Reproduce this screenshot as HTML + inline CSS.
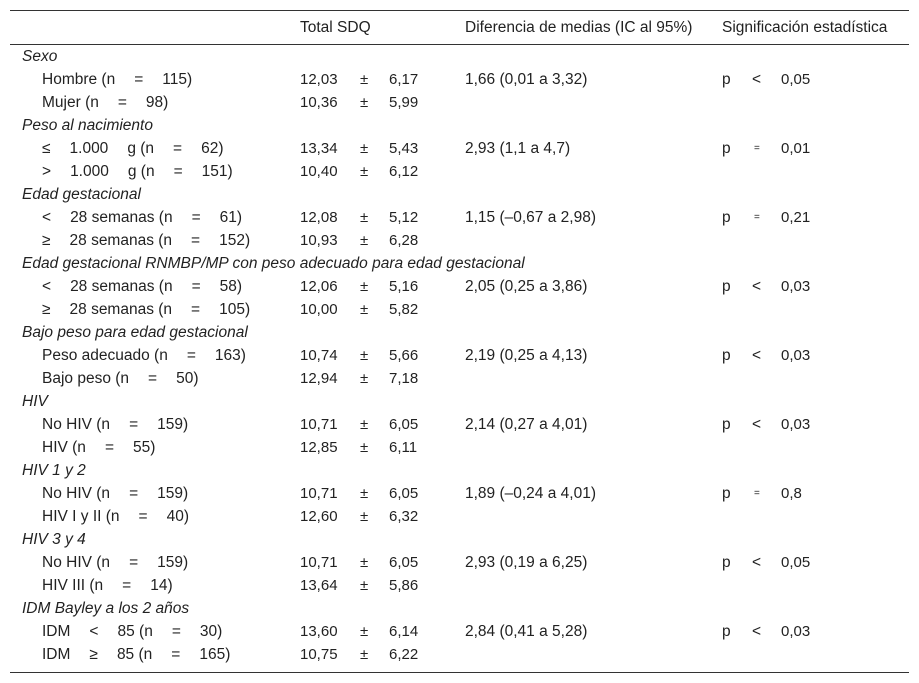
<!DOCTYPE html>
<html><head><meta charset="utf-8">
<style>
html,body{margin:0;padding:0;background:#fff;}
body{width:919px;height:683px;position:relative;overflow:hidden;font-family:"Liberation Sans",sans-serif;font-size:15.5px;color:#222;}
.t{position:absolute;white-space:pre;line-height:18px;}
.num{font-size:15px;}
.gap{display:inline-block;width:19px;}
.line{position:absolute;left:10px;width:899px;height:1px;background:#333;}
.it{font-style:italic;}
</style></head>
<body>
<div class="line" style="top:10px"></div>
<div class="line" style="top:44px"></div>
<div class="line" style="top:672px"></div>
<div class="t" style="left:300px;top:19px">Total SDQ</div>
<div class="t" style="left:465px;top:19px">Diferencia de medias (IC al 95%)</div>
<div class="t" style="left:722px;top:19px">Significación estadística</div>
<div id="rows"></div>
<script>
const rows = [
 ["g","Sexo"],
 ["r","Hombre (n|=|115)","12,03","6,17","1,66 (0,01 a 3,32)","<","0,05"],
 ["r","Mujer (n|=|98)","10,36","5,99"],
 ["g","Peso al nacimiento"],
 ["r","≤|1.000|g (n|=|62)","13,34","5,43","2,93 (1,1 a 4,7)","=","0,01"],
 ["r",">|1.000|g (n|=|151)","10,40","6,12"],
 ["g","Edad gestacional"],
 ["r","<|28 semanas (n|=|61)","12,08","5,12","1,15 (–0,67 a 2,98)","=","0,21"],
 ["r","≥|28 semanas (n|=|152)","10,93","6,28"],
 ["g","Edad gestacional RNMBP/MP con peso adecuado para edad gestacional"],
 ["r","<|28 semanas (n|=|58)","12,06","5,16","2,05 (0,25 a 3,86)","<","0,03"],
 ["r","≥|28 semanas (n|=|105)","10,00","5,82"],
 ["g","Bajo peso para edad gestacional"],
 ["r","Peso adecuado (n|=|163)","10,74","5,66","2,19 (0,25 a 4,13)","<","0,03"],
 ["r","Bajo peso (n|=|50)","12,94","7,18"],
 ["g","HIV"],
 ["r","No HIV (n|=|159)","10,71","6,05","2,14 (0,27 a 4,01)","<","0,03"],
 ["r","HIV (n|=|55)","12,85","6,11"],
 ["g","HIV 1 y 2"],
 ["r","No HIV (n|=|159)","10,71","6,05","1,89 (–0,24 a 4,01)","=","0,8"],
 ["r","HIV I y II (n|=|40)","12,60","6,32"],
 ["g","HIV 3 y 4"],
 ["r","No HIV (n|=|159)","10,71","6,05","2,93 (0,19 a 6,25)","<","0,05"],
 ["r","HIV III (n|=|14)","13,64","5,86"],
 ["g","IDM Bayley a los 2 años"],
 ["r","IDM|<|85 (n|=|30)","13,60","6,14","2,84 (0,41 a 5,28)","<","0,03"],
 ["r","IDM|≥|85 (n|=|165)","10,75","6,22"]
];
const host=document.getElementById('rows');
function add(txt,x,y,cls,name){
 const d=document.createElement('div');
 d.className='t '+(cls||'');
 d.textContent=txt;
 d.style.left=x+'px';d.style.top=y+'px';
 
 
 host.appendChild(d);
 return d;
}
rows.forEach((r,i)=>{
 const y=48+i*23.0;
 if(r[0]==='g'){add(r[1],22,y,'it','group-label');return;}
 const lab=add('',42,y,'','row-label');
 r[1].split('|').forEach((p,k)=>{
  if(k>0){const g=document.createElement('span');g.className='gap';lab.appendChild(g);}
  lab.appendChild(document.createTextNode(p));
 });
 add(r[2],300,y,'num','mean-value');
 add('±',360,y,'num','plus-minus');
 add(r[3],389,y,'num','sd-value');
 if(r.length>4){
  add(r[4],465,y,'','mean-difference');
  add('p',722,y,'','p-label');
  const op=add(r[5],752,y,'','p-operator');
  if(r[5]==='='){op.style.fontSize='10px';op.style.left='754px';}
  add(r[6],781,y,'num','p-value');
 }
});
</script>
</body></html>
